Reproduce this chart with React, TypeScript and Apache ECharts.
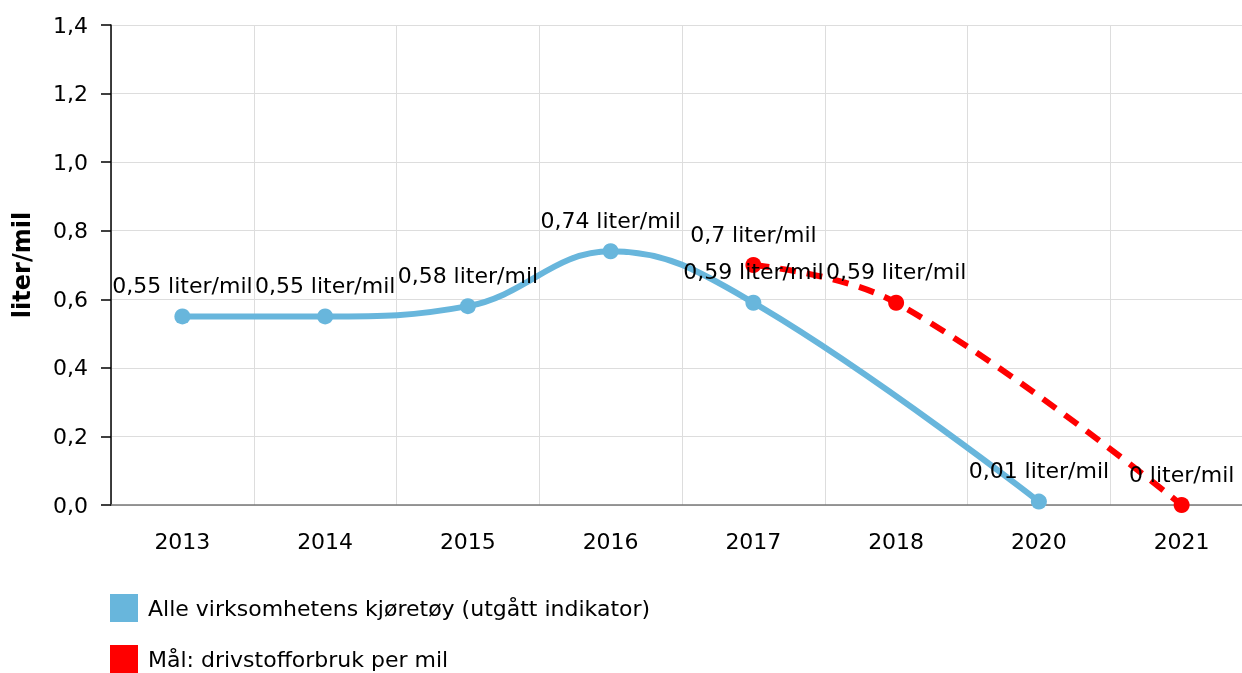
import React, { useEffect, useRef } from "react";
import * as echarts from "echarts";

const years = ["2013", "2014", "2015", "2016", "2017", "2018", "2020", "2021"];
const allVehicles = [0.55, 0.55, 0.58, 0.74, 0.59, null, 0.01, null];
const goal = [null, null, null, null, 0.7, 0.59, null, 0];
const yTicks = { min: 0, max: 1.4, interval: 0.2 };

const FONT = "DejaVu Sans";
const fmt = (v: number) => String(v).replace(".", ",") + " liter/mil";

export default function App() {
  const ref = useRef<HTMLDivElement>(null);
  useEffect(() => {
    document.body.style.margin = "0";
    document.documentElement.style.overflow = "hidden";
    document.body.style.overflow = "hidden";
    const chart = echarts.init(ref.current!, null, { renderer: "svg" });
    chart.setOption({
      animation: false,
      textStyle: { fontFamily: FONT },
      grid: { left: 111, right: 0, top: 25, bottom: 168, containLabel: false },
      legend: {
        orient: "vertical",
        left: 105,
        top: 589,
        height: 150,
        itemWidth: 28,
        itemHeight: 28,
        itemGap: 23,
        icon: "rect",
        textStyle: { fontFamily: FONT, fontSize: 22, color: "#000", padding: [0, 0, 0, 5] },
        data: ["Alle virksomhetens kjøretøy (utgått indikator)", "Mål: drivstofforbruk per mil"],
      },
      xAxis: {
        type: "category",
        data: years,
        boundaryGap: true,
        axisLine: { lineStyle: { color: "#777", width: 1.5 } },
        axisTick: { alignWithLabel: true, length: 6, lineStyle: { color: "#ccc" } },
        axisLabel: { color: "#000", fontSize: 22, fontFamily: FONT, margin: 25 },
        splitLine: { show: true, lineStyle: { color: "#ddd", width: 1 } },
      },
      yAxis: {
        type: "value",
        min: yTicks.min,
        max: yTicks.max,
        interval: yTicks.interval,
        name: "liter/mil",
        nameLocation: "middle",
        nameGap: 77,
        nameTextStyle: { fontFamily: FONT, fontSize: 24, fontWeight: "bold", color: "#000" },
        axisLine: { show: true, lineStyle: { color: "#000", width: 1.5 } },
        axisTick: { show: true, length: 10, lineStyle: { color: "#000", width: 1.5 } },
        axisLabel: {
          color: "#000",
          fontSize: 22,
          fontFamily: FONT,
          margin: 23,
          formatter: (v: number) => v.toFixed(1).replace(".", ","),
        },
        splitLine: { show: true, lineStyle: { color: "#ddd", width: 1 } },
      },
      series: [
        {
          name: "Alle virksomhetens kjøretøy (utgått indikator)",
          type: "line",
          data: allVehicles,
          connectNulls: true,
          smooth: 0.4,
          symbol: "circle",
          symbolSize: 16,
          itemStyle: { color: "#68b6dc" },
          lineStyle: { color: "#68b6dc", width: 6 },
          label: {
            show: true,
            position: "top",
            distance: 12,
            color: "#000",
            fontSize: 22,
            fontFamily: FONT,
            formatter: (p: any) => fmt(p.value),
          },
        },
        {
          name: "Mål: drivstofforbruk per mil",
          type: "line",
          data: goal,
          connectNulls: true,
          smooth: 0.4,
          symbol: "circle",
          symbolSize: 16,
          itemStyle: { color: "#ff0000" },
          lineStyle: { color: "#ff0000", width: 6, type: [16, 11] },
          label: {
            show: true,
            position: "top",
            distance: 12,
            color: "#000",
            fontSize: 22,
            fontFamily: FONT,
            formatter: (p: any) => fmt(p.value),
          },
        },
      ],
    });
    return () => chart.dispose();
  }, []);
  return <div ref={ref} style={{ position: "fixed", left: 0, top: 0, width: 1253, height: 673 }} />;
}
